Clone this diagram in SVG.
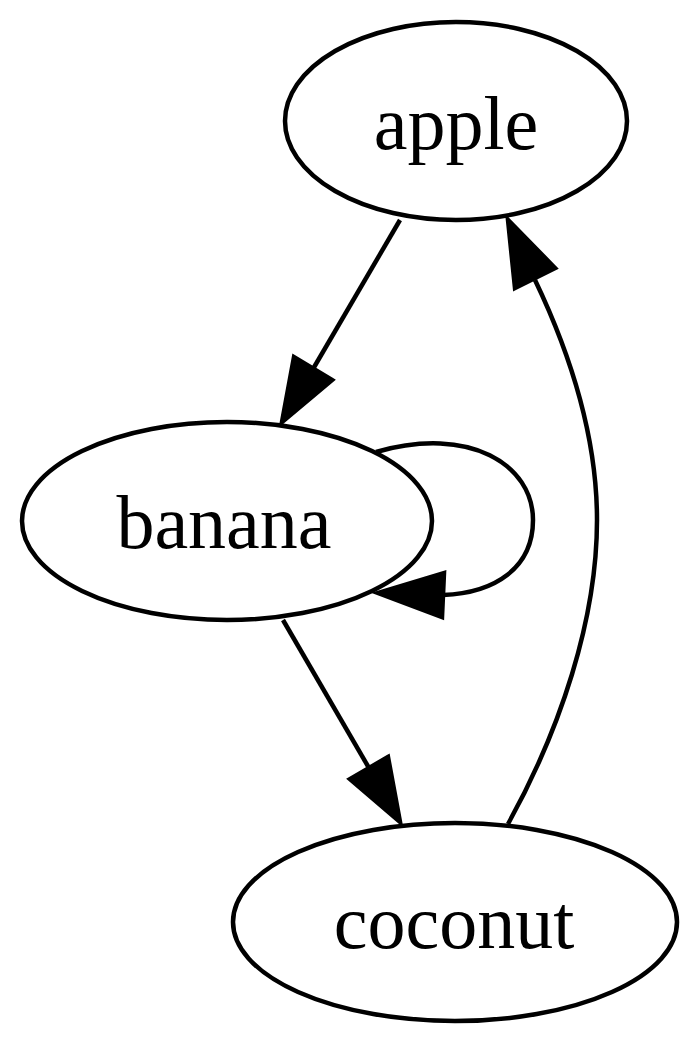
<svg xmlns="http://www.w3.org/2000/svg" width="700" height="1044" viewBox="0 0 700 1044">
<style>
.node ellipse{fill:#fff;stroke:#000;stroke-width:4.5}
.node text{font-family:"Liberation Serif","Times New Roman",serif;font-size:76px;fill:#000;text-anchor:middle}
.edge path{fill:none;stroke:#000;stroke-width:4.5}
.edge polygon{fill:#000;stroke:#000;stroke-width:4.5}
</style>
<rect width="700" height="1044" fill="#fff"/>
<g id="edges">
<g class="edge" id="apple-banana">
<path d="M400,220 L313,369"/>
<polygon points="332,380 294,357 282,422"/>
</g>
<g class="edge" id="banana-banana">
<path d="M376,452 C470,425 533,465 533,520 C533,568 495,593 443,595"/>
<polygon points="444,573 442,617 378,593"/>
</g>
<g class="edge" id="banana-coconut">
<path d="M283,620 L369,768"/>
<polygon points="388,757 350,779 400,822"/>
</g>
<g class="edge" id="coconut-apple">
<path d="M508,824 C560,730 597,620 597,520 C597,430 567,347 535,280"/>
<polygon points="515,288 555,268 508,220"/>
</g>
</g>
<g class="node" id="apple">
<ellipse cx="456" cy="121" rx="171" ry="99"/>
<text x="456" y="149">apple</text>
</g>
<g class="node" id="banana">
<ellipse cx="227" cy="521" rx="205" ry="99"/>
<text x="224" y="548">banana</text>
</g>
<g class="node" id="coconut">
<ellipse cx="455" cy="922" rx="222" ry="99"/>
<text x="454" y="948">coconut</text>
</g>
</svg>
